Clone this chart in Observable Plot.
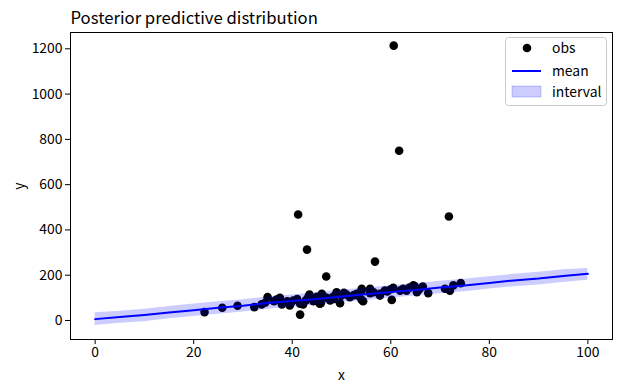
<!DOCTYPE html>
<html>
<head>
<meta charset="utf-8">
<script src="https://cdn.jsdelivr.net/npm/d3@7"></script>
<script src="https://cdn.jsdelivr.net/npm/@observablehq/plot@0.6"></script>
<style>
  body { margin: 0; background: #fff; }
  #chart { width: 622px; height: 392px; }
</style>
</head>
<body>
<div id="chart"></div>
<script>
const title = "Posterior predictive distribution";
const xTicks = [0, 20, 40, 60, 80, 100];
const yTicks = [0, 200, 400, 600, 800, 1000, 1200];

// observations
const obsX = [22.2, 25.8, 28.9, 32.3, 33.8, 35.0, 36.3, 37.5, 37.9, 37.9, 39.0, 39.5, 40.2, 41.6, 42.2, 43.3, 43.5, 44.3, 45.6, 45.8,
  46.0, 46.2, 47.7, 49.0, 49.0, 49.7, 50.5, 51.7, 53.1, 54.1, 54.1, 54.1, 54.4, 55.8, 55.8, 57.8, 57.8, 58.8, 60.2, 60.5,
  61.9, 63.2, 64.6, 64.9, 65.3, 66.5, 67.6, 71.0, 72.0, 72.7, 74.2,
  41.0, 42.8, 44.8, 47.0, 48.3, 50.0, 51.0, 52.5, 53.5, 56.5, 59.3, 60.0, 62.5, 63.8, 65.8, 48.5, 45.0, 39.8, 36.8, 34.5,
  60.6, 61.7, 41.2, 43.0, 46.9, 56.8, 71.8, 41.6];
const obsY = [37, 56, 65, 59, 71, 103, 85, 100, 71, 81, 85, 66, 88, 74, 71, 106, 115, 85, 74, 76,
  118, 110, 88, 118, 125, 76, 122, 103, 118, 132, 91, 140, 85, 121, 140, 110, 118, 132, 91, 144,
  132, 132, 155, 150, 125, 150, 121, 140, 132, 155, 165,
  95, 90, 98, 100, 105, 110, 115, 112, 108, 125, 128, 138, 140, 145, 138, 95, 105, 80, 92, 78,
  1214, 750, 468, 313, 194, 260, 459, 26];

// posterior mean and interval
const gridX = [0, 5, 10, 15, 20, 25, 30, 35, 40, 45, 50, 55, 60, 65, 70, 75, 80, 85, 90, 95, 100];
const meanY = [6, 15, 24, 35, 45, 56, 65, 77, 86, 95, 106, 116, 126, 135, 146, 155, 166, 177, 185, 196, 206];
const lowerY = [-22, -12, -6, 8, 18, 28, 37, 50, 58, 68, 79, 88, 99, 108, 118, 127, 139, 149, 157, 168, 178];
const upperY = [34, 41, 50, 62, 73, 83, 92, 104, 113, 122, 133, 143, 153, 162, 173, 182, 193, 204, 213, 224, 230];

const obs = obsX.map((x, i) => ({x, y: obsY[i]}));
const grid = gridX.map((x, i) => ({x, mean: meanY[i], lo: lowerY[i], hi: upperY[i]}));

const FONT = "'Noto Sans CJK SC', 'Noto Sans', sans-serif";

const plot = Plot.plot({
  width: 622,
  height: 392,
  marginLeft: 70,
  marginRight: 10,
  marginTop: 32,
  marginBottom: 53,
  style: {fontFamily: FONT, fontSize: "13.9px", color: "black", background: "white"},
  x: {domain: [-5, 105]},
  y: {domain: [-84, 1272]},
  marks: [
    Plot.dot(obs, {x: "x", y: "y", r: 4.3, fill: "black", stroke: "none"}),
    Plot.areaY(grid, {x: "x", y1: "lo", y2: "hi", fill: "blue", fillOpacity: 0.2}),
    Plot.line(grid, {x: "x", y: "mean", stroke: "blue", strokeWidth: 2}),
    Plot.frame({stroke: "black", strokeWidth: 1}),
    Plot.axisX({ticks: xTicks, tickFormat: d3.format("d"), tickSize: 5, tickPadding: 3, label: "x", labelAnchor: "center", labelArrow: "none", labelOffset: 40}),
    Plot.axisY({ticks: yTicks, tickFormat: d3.format("d"), tickSize: 5, tickPadding: 3, label: "y", labelAnchor: "center", labelArrow: "none", labelOffset: 56}),
    Plot.text([title], {frameAnchor: "top-left", text: d => d, textAnchor: "start", lineAnchor: "bottom", dy: -9, fontSize: 16.7, fill: "black"})
  ]
});

document.getElementById("chart").appendChild(plot);

// legend
const svg = d3.select(plot);
const lg = svg.append("g").attr("font-family", FONT).attr("font-size", "13.9px").attr("text-anchor", "start");
lg.append("rect").attr("x", 505.5).attr("y", 37.5).attr("width", 101).attr("height", 68)
  .attr("rx", 3).attr("fill", "white").attr("fill-opacity", 0.8).attr("stroke", "#cccccc");
lg.append("circle").attr("cx", 527).attr("cy", 48).attr("r", 4.3).attr("fill", "black");
lg.append("line").attr("x1", 512).attr("x2", 541).attr("y1", 71).attr("y2", 71).attr("stroke", "blue").attr("stroke-width", 2);
lg.append("rect").attr("x", 512).attr("y", 86).attr("width", 29).attr("height", 11).attr("fill", "blue").attr("fill-opacity", 0.2).attr("stroke", "blue").attr("stroke-opacity", 0.2);
[["obs", 48], ["mean", 71], ["interval", 92]].forEach(([t, y]) => {
  lg.append("text").attr("x", 552).attr("y", y).attr("dy", "0.35em").attr("text-anchor", "start").attr("fill", "black").text(t);
});
</script>
</body>
</html>
